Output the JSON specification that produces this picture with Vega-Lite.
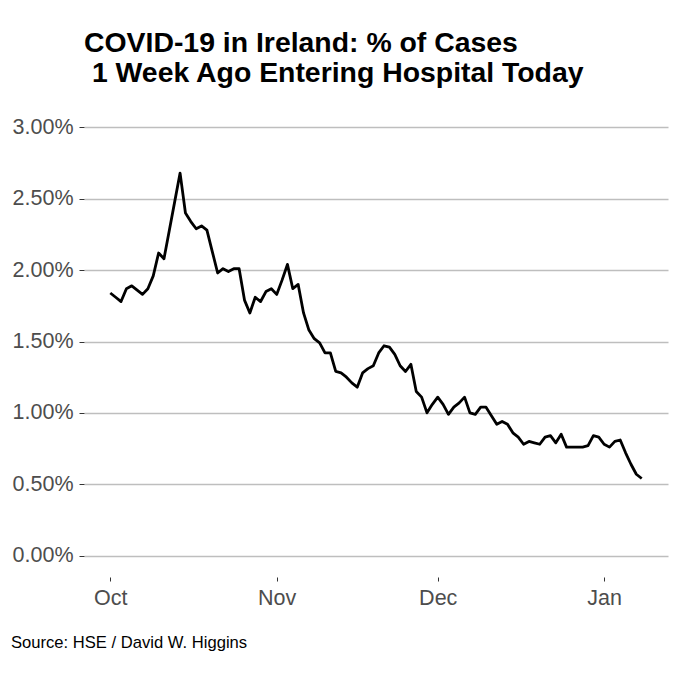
{
  "$schema": "https://vega.github.io/schema/vega-lite/v6.json",
  "autosize": {"type": "none"},
  "width": 584,
  "height": 471,
  "padding": {"left": 84, "top": 106, "right": 12, "bottom": 103},
  "background": "white",
  "config": {
    "view": {"stroke": null},
    "font": "Liberation Sans"
  },
  "title": {
    "text": ["COVID-19 in Ireland: % of Cases", "\u200b\u00a01 Week Ago Entering Hospital Today"],
    "anchor": "start",
    "frame": "group",
    "font": "Liberation Sans",
    "fontSize": 28.4,
    "fontWeight": "bold",
    "color": "black",
    "lineHeight": 30,
    "offset": 18
  },
  "data": {
    "values": [
      {"date": "2020-10-01", "pct": 0.0184},
      {"date": "2020-10-02", "pct": 0.0181},
      {"date": "2020-10-03", "pct": 0.0178},
      {"date": "2020-10-04", "pct": 0.0187},
      {"date": "2020-10-05", "pct": 0.0189},
      {"date": "2020-10-06", "pct": 0.0186},
      {"date": "2020-10-07", "pct": 0.0183},
      {"date": "2020-10-08", "pct": 0.0187},
      {"date": "2020-10-09", "pct": 0.0196},
      {"date": "2020-10-10", "pct": 0.0212},
      {"date": "2020-10-11", "pct": 0.0208},
      {"date": "2020-10-12", "pct": 0.0228},
      {"date": "2020-10-13", "pct": 0.0248},
      {"date": "2020-10-14", "pct": 0.0268},
      {"date": "2020-10-15", "pct": 0.0240},
      {"date": "2020-10-16", "pct": 0.0234},
      {"date": "2020-10-17", "pct": 0.0229},
      {"date": "2020-10-18", "pct": 0.0231},
      {"date": "2020-10-19", "pct": 0.0228},
      {"date": "2020-10-20", "pct": 0.0213},
      {"date": "2020-10-21", "pct": 0.0198},
      {"date": "2020-10-22", "pct": 0.0201},
      {"date": "2020-10-23", "pct": 0.0199},
      {"date": "2020-10-24", "pct": 0.0201},
      {"date": "2020-10-25", "pct": 0.0201},
      {"date": "2020-10-26", "pct": 0.0179},
      {"date": "2020-10-27", "pct": 0.0170},
      {"date": "2020-10-28", "pct": 0.0181},
      {"date": "2020-10-29", "pct": 0.0178},
      {"date": "2020-10-30", "pct": 0.0185},
      {"date": "2020-10-31", "pct": 0.0187},
      {"date": "2020-11-01", "pct": 0.0183},
      {"date": "2020-11-02", "pct": 0.0193},
      {"date": "2020-11-03", "pct": 0.0204},
      {"date": "2020-11-04", "pct": 0.0187},
      {"date": "2020-11-05", "pct": 0.0190},
      {"date": "2020-11-06", "pct": 0.0170},
      {"date": "2020-11-07", "pct": 0.0158},
      {"date": "2020-11-08", "pct": 0.0152},
      {"date": "2020-11-09", "pct": 0.0149},
      {"date": "2020-11-10", "pct": 0.0142},
      {"date": "2020-11-11", "pct": 0.0142},
      {"date": "2020-11-12", "pct": 0.0129},
      {"date": "2020-11-13", "pct": 0.0128},
      {"date": "2020-11-14", "pct": 0.0125},
      {"date": "2020-11-15", "pct": 0.0121},
      {"date": "2020-11-16", "pct": 0.0118},
      {"date": "2020-11-17", "pct": 0.0128},
      {"date": "2020-11-18", "pct": 0.0131},
      {"date": "2020-11-19", "pct": 0.0133},
      {"date": "2020-11-20", "pct": 0.0142},
      {"date": "2020-11-21", "pct": 0.0147},
      {"date": "2020-11-22", "pct": 0.0146},
      {"date": "2020-11-23", "pct": 0.0141},
      {"date": "2020-11-24", "pct": 0.0133},
      {"date": "2020-11-25", "pct": 0.0129},
      {"date": "2020-11-26", "pct": 0.0134},
      {"date": "2020-11-27", "pct": 0.0115},
      {"date": "2020-11-28", "pct": 0.0111},
      {"date": "2020-11-29", "pct": 0.0100},
      {"date": "2020-11-30", "pct": 0.0106},
      {"date": "2020-12-01", "pct": 0.0111},
      {"date": "2020-12-02", "pct": 0.0106},
      {"date": "2020-12-03", "pct": 0.0099},
      {"date": "2020-12-04", "pct": 0.0104},
      {"date": "2020-12-05", "pct": 0.0107},
      {"date": "2020-12-06", "pct": 0.0111},
      {"date": "2020-12-07", "pct": 0.0100},
      {"date": "2020-12-08", "pct": 0.0099},
      {"date": "2020-12-09", "pct": 0.0104},
      {"date": "2020-12-10", "pct": 0.0104},
      {"date": "2020-12-11", "pct": 0.0098},
      {"date": "2020-12-12", "pct": 0.0092},
      {"date": "2020-12-13", "pct": 0.0094},
      {"date": "2020-12-14", "pct": 0.0092},
      {"date": "2020-12-15", "pct": 0.0086},
      {"date": "2020-12-16", "pct": 0.0083},
      {"date": "2020-12-17", "pct": 0.0078},
      {"date": "2020-12-18", "pct": 0.0080},
      {"date": "2020-12-19", "pct": 0.0079},
      {"date": "2020-12-20", "pct": 0.0078},
      {"date": "2020-12-21", "pct": 0.0083},
      {"date": "2020-12-22", "pct": 0.0084},
      {"date": "2020-12-23", "pct": 0.0079},
      {"date": "2020-12-24", "pct": 0.0085},
      {"date": "2020-12-25", "pct": 0.0076},
      {"date": "2020-12-26", "pct": 0.0076},
      {"date": "2020-12-27", "pct": 0.0076},
      {"date": "2020-12-28", "pct": 0.0076},
      {"date": "2020-12-29", "pct": 0.0077},
      {"date": "2020-12-30", "pct": 0.0084},
      {"date": "2020-12-31", "pct": 0.0083},
      {"date": "2021-01-01", "pct": 0.0078},
      {"date": "2021-01-02", "pct": 0.0076},
      {"date": "2021-01-03", "pct": 0.0080},
      {"date": "2021-01-04", "pct": 0.0081},
      {"date": "2021-01-05", "pct": 0.0072},
      {"date": "2021-01-06", "pct": 0.0064},
      {"date": "2021-01-07", "pct": 0.0057},
      {"date": "2021-01-08", "pct": 0.0054}
    ]
  },
  "mark": {"type": "line", "color": "black", "strokeWidth": 2.8, "strokeJoin": "round"},
  "encoding": {
    "x": {
      "field": "date",
      "type": "temporal",
      "scale": {
        "type": "utc",
        "domain": [
          {"year": 2020, "month": 9, "date": 26, "hours": 2, "minutes": 24, "utc": true},
          {"year": 2021, "month": 1, "date": 12, "hours": 21, "minutes": 36, "utc": true}
        ]
      },
      "axis": {
        "values": [
          {"year": 2020, "month": 10, "date": 1, "utc": true},
          {"year": 2020, "month": 11, "date": 1, "utc": true},
          {"year": 2020, "month": 12, "date": 1, "utc": true},
          {"year": 2021, "month": 1, "date": 1, "utc": true}
        ],
        "labelExpr": "utcFormat(datum.value, '%b')",
        "grid": false,
        "domain": false,
        "ticks": true,
        "tickSize": 4,
        "tickColor": "#333333",
        "tickWidth": 1,
        "labelFont": "Liberation Sans",
        "labelFontSize": 21.5,
        "labelColor": "#4D4D4D",
        "labelPadding": 6,
        "title": "Source: HSE / David W. Higgins",
        "titleFont": "Liberation Sans",
        "titleFontSize": 16.6,
        "titleFontWeight": "normal",
        "titleColor": "black",
        "titleAnchor": "start",
        "titleAlign": "left",
        "titleBaseline": "alphabetic",
        "titleX": -73.5,
        "titleY": 70
      }
    },
    "y": {
      "field": "pct",
      "type": "quantitative",
      "scale": {"domain": [-0.0015, 0.0315], "nice": false, "zero": false},
      "axis": {
        "values": [0, 0.005, 0.01, 0.015, 0.02, 0.025, 0.03],
        "format": ".2%",
        "grid": true,
        "gridColor": "#BEBEBE",
        "gridWidth": 1.3,
        "domain": false,
        "ticks": true,
        "tickSize": 5,
        "tickColor": "#333333",
        "tickWidth": 1,
        "labelFont": "Liberation Sans",
        "labelFontSize": 21.5,
        "labelColor": "#4D4D4D",
        "labelPadding": 6,
        "title": null
      }
    }
  }
}
